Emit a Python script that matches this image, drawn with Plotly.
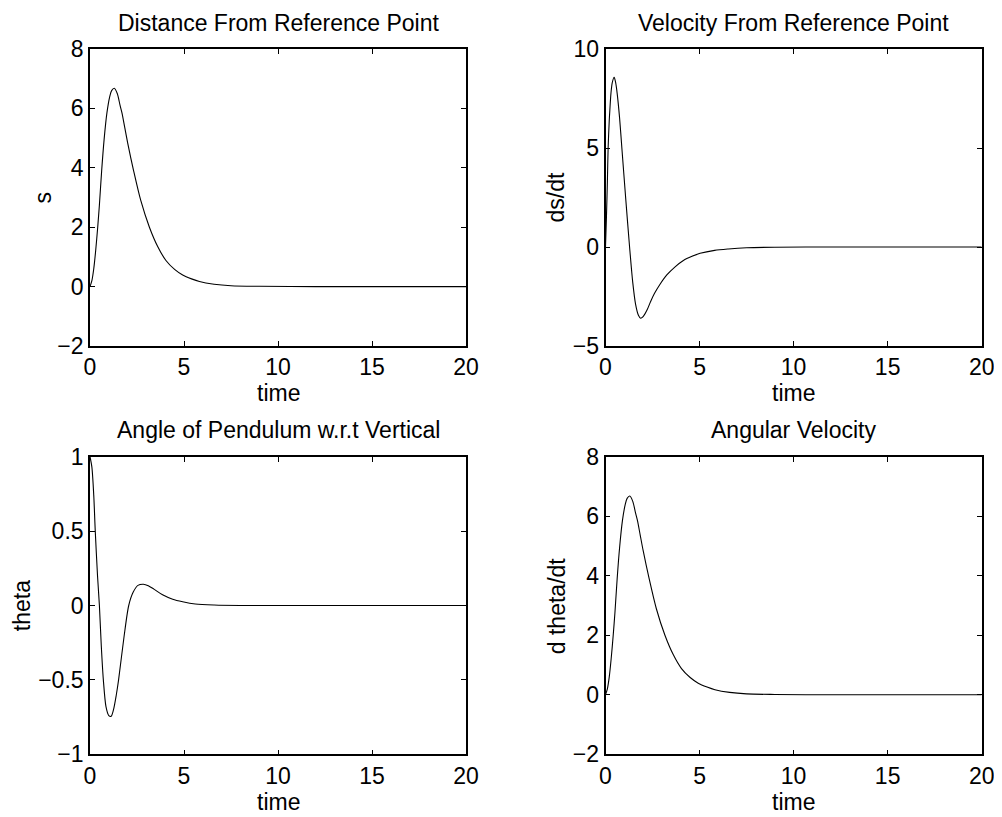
import plotly.graph_objects as go

W, H = 1002, 817
OFF = 8  # page body margin of the html page

# ---------------- data ----------------
t_s = [0, 0.1, 0.2, 0.3, 0.41, 0.5, 0.62, 0.75, 0.9, 1.05, 1.15, 1.29, 1.45, 1.6, 1.7,
       1.85, 2.0, 2.32, 2.7, 3.16, 3.6, 4.04, 4.5, 4.93, 5.4, 5.82, 6.6, 7.5, 9, 12, 16, 20]
s_vals = [0, 0.2, 0.6, 1.2, 2.0, 2.75, 3.9, 4.95, 5.85, 6.4, 6.6, 6.68, 6.5, 6.1, 5.85,
          5.35, 4.85, 3.9, 2.9, 2.0, 1.35, 0.88, 0.58, 0.39, 0.26, 0.17, 0.08, 0.03, 0.01, 0, 0, 0]

t_v = [0, 0.05, 0.1, 0.14, 0.2, 0.23, 0.29, 0.36, 0.46, 0.54, 0.62, 0.75, 0.87, 1.07, 1.28,
       1.45, 1.6, 1.75, 1.87, 2.0, 2.2, 2.4, 2.6, 2.9, 3.26, 3.7, 4.14, 4.6, 5.03, 5.8,
       6.53, 7.5, 9, 12, 16, 20]
v_vals = [0, 1.5, 3.3, 5.0, 6.4, 6.9, 7.76, 8.3, 8.57, 8.3, 7.76, 6.5, 5.0, 2.5, 0,
          -1.8, -2.9, -3.45, -3.6, -3.52, -3.2, -2.75, -2.35, -1.88, -1.41, -1.0, -0.68, -0.47, -0.32, -0.17,
          -0.10, -0.04, -0.01, 0, 0, 0]

t_th = [0, 0.1, 0.2, 0.28, 0.4, 0.5, 0.6, 0.71, 0.85, 1.0, 1.12, 1.25, 1.4, 1.52, 1.8,
        2.06, 2.3, 2.55, 2.84, 3.1, 3.4, 3.86, 4.4, 4.93, 5.6, 6.6, 8, 12, 16, 20]
theta_vals = [1.0, 0.93, 0.74, 0.5, 0.2, 0.0, -0.27, -0.5, -0.68, -0.74, -0.745, -0.7, -0.6, -0.5, -0.22,
              0.0, 0.09, 0.135, 0.143, 0.133, 0.11, 0.072, 0.042, 0.025, 0.01, 0.003, 0, 0, 0, 0]

t_w = list(t_s)
w_vals = list(s_vals)

x_ticks = [0, 5, 10, 15, 20]
s_ticks = [-2, 0, 2, 4, 6, 8]
v_ticks = [-5, 0, 5, 10]
th_ticks = [-1, -0.5, 0, 0.5, 1]
w_ticks = [-2, 0, 2, 4, 6, 8]

titles = ["Distance From Reference Point", "Velocity From Reference Point",
          "Angle of Pendulum w.r.t Vertical", "Angular Velocity"]
ylabels = ["s", "ds/dt", "theta", "d theta/dt"]
xlabel = "time"

# ---------------- layout ----------------
FONT = "Liberation Sans, Arial, Helvetica, sans-serif"
FS = 23

def px_x(x):
    return (x - OFF) / W

def px_y(y):
    return 1 - (y - OFF) / H

left_dom = [px_x(90), px_x(466)]
right_dom = [px_x(605.5), px_x(981.7)]
top_dom = [px_y(346), px_y(49)]
bot_dom = [px_y(754.3), px_y(456.7)]

fig = go.Figure()
series = [(t_s, s_vals), (t_v, v_vals), (t_th, theta_vals), (t_w, w_vals)]
for i, (tx, ty) in enumerate(series):
    ax = "" if i == 0 else str(i + 1)
    fig.add_trace(go.Scatter(x=tx, y=ty, mode="lines",
                             line=dict(color="black", width=1.1, shape="spline", smoothing=0.8),
                             xaxis="x" + ax, yaxis="y" + ax, showlegend=False,
                             hoverinfo="skip"))

def axis_common():
    return dict(showline=True, linecolor="black", linewidth=1.6, mirror="ticks",
                ticks="inside", ticklen=5, tickwidth=1, tickcolor="black",
                showgrid=False, zeroline=False, automargin=False,
                tickfont=dict(family=FONT, size=FS, color="black"))

yranges = [(-2, 8, s_ticks), (-5, 10, v_ticks), (-1, 1, th_ticks), (-2, 8, w_ticks)]
doms = [(left_dom, top_dom), (right_dom, top_dom), (left_dom, bot_dom), (right_dom, bot_dom)]
layout = {}
for i in range(4):
    k = "" if i == 0 else str(i + 1)
    xd, yd = doms[i]
    lo, hi, yt = yranges[i]
    layout["xaxis" + k] = dict(domain=xd, range=[0, 20], tickvals=x_ticks,
                               anchor="y" + k, **axis_common())
    layout["yaxis" + k] = dict(domain=yd, range=[lo, hi], tickvals=yt,
                               anchor="x" + k, **axis_common())
fig.update_layout(**layout)

ann = []
title_pos = [(278, 23), (793.6, 23), (278, 430), (793.6, 430)]
xlab_pos = [(278, 393), (793.6, 393), (278, 801.7), (793.6, 801.7)]
ylab_pos = [(42, 197.5), (555, 197.5), (21.7, 605.5), (556.7, 605.5)]
for i in range(4):
    ann.append(dict(text=titles[i], x=px_x(title_pos[i][0]), y=px_y(title_pos[i][1]),
                    xref="paper", yref="paper", showarrow=False, xanchor="center", yanchor="middle",
                    font=dict(family=FONT, size=FS, color="black")))
    ann.append(dict(text=xlabel, x=px_x(xlab_pos[i][0]), y=px_y(xlab_pos[i][1]),
                    xref="paper", yref="paper", showarrow=False, xanchor="center", yanchor="middle",
                    font=dict(family=FONT, size=FS, color="black")))
    ann.append(dict(text=ylabels[i], x=px_x(ylab_pos[i][0]), y=px_y(ylab_pos[i][1]),
                    xref="paper", yref="paper", showarrow=False, xanchor="center", yanchor="middle",
                    textangle=-90, font=dict(family=FONT, size=FS, color="black")))

fig.update_layout(width=W, height=H,
                  margin=dict(l=0, r=0, t=0, b=0, pad=0, autoexpand=False),
                  paper_bgcolor="white", plot_bgcolor="white", annotations=ann,
                  font=dict(family=FONT, size=FS, color="black"))

fig.write_html("out.html")
